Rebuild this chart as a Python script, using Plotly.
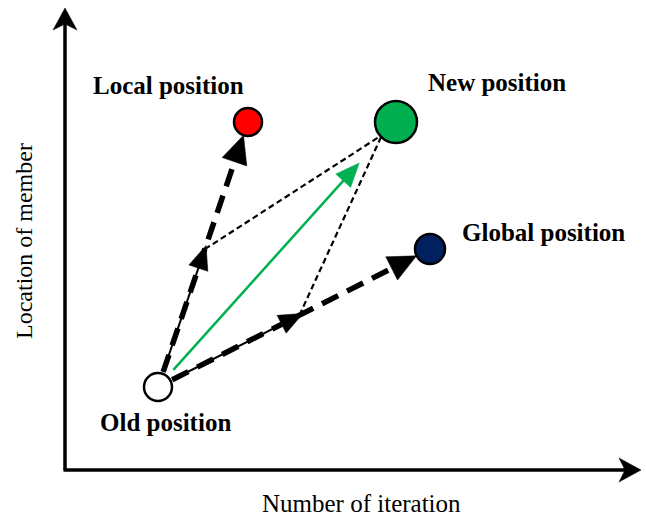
import numpy as np
import plotly.graph_objects as go

# ---- data (diagram coordinates; canvas units, y grows downward) ----
names = ["Old position", "Local position", "New position", "Global position"]
node_x = [158, 248, 396, 430]
node_y = [387, 122, 122, 249]
node_r = [14, 14, 21, 15]
node_fill = ["#ffffff", "#ff0000", "#00b050", "#002060"]
label_x = [165, 168, 497, 543]
label_y = [422, 85, 82, 232]
mid_frac = 0.52         # where the partial-step arrows sit on each move
axis_x_title = "Number of iteration"
axis_y_title = "Location of member"

W, H = 646, 517
O = np.array([node_x[0], node_y[0]], float)
L = np.array([node_x[1], node_y[1]], float)
N = np.array([node_x[2], node_y[2]], float)
G = np.array([node_x[3], node_y[3]], float)

shapes = []


def unit(a, b):
    d = b - a
    return d / np.linalg.norm(d)


def line(a, b, width, color="black", dash=None):
    shapes.append(dict(type="line", x0=a[0], y0=a[1], x1=b[0], y1=b[1],
                       xref="x", yref="y",
                       line=dict(color=color, width=width, dash=dash)))


def tri(tip, d, length, half, color="black", notch=0.0):
    n = np.array([-d[1], d[0]])
    base = tip - length * d
    p1 = base + half * n
    p2 = base - half * n
    pts = [tip, p1]
    if notch:
        pts.append(tip - (length - notch) * d)
    pts.append(p2)
    path = "M " + " L ".join(f"{p[0]:.2f},{p[1]:.2f}" for p in pts) + " Z"
    shapes.append(dict(type="path", path=path, xref="x", yref="y",
                       fillcolor=color, line=dict(color=color, width=0.5)))


# ---- axes with arrows ----
ax_origin = np.array([65, 470.0])
ax_ytip = np.array([65, 8.0])
ax_xtip = np.array([641, 470.0])
line(ax_origin, ax_ytip + np.array([0, 14]), 3.5)
line(ax_origin - np.array([1.5, 0]), ax_xtip - np.array([14, 0]), 3.5)
tri(ax_ytip, np.array([0, -1.0]), 22, 12, notch=6)
tri(ax_xtip, np.array([1.0, 0]), 22, 12, notch=6)

# ---- moves from old position ----
for tgt, r_t in [(L, node_r[1]), (G, node_r[3])]:
    d = unit(O, tgt)
    start = O + (node_r[0] + 2) * d
    end_tip = tgt - r_t * d
    mid = O + mid_frac * (tgt - O)
    # thin solid under first half
    line(start, mid, 2)
    # thick dashed whole length
    line(start, end_tip - 20 * d, 5.5, dash="18px,10px")
    tri(mid + 4 * d, d, 24, 10)
    tri(end_tip, d, 28, 13)

# ---- dotted parallelogram edges to new position ----
dN = unit(O, N)
for tgt in [L, G]:
    mid = O + mid_frac * (tgt - O)
    line(mid, N + np.array([-14, 13]), 2.2, dash="6px,3.5px")

# ---- green resulting move ----
g_start = O + 23 * dN
g_tip = N - 55 * dN
line(g_start, g_tip - 12 * dN, 2.5, color="#00b050")
tri(g_tip, dN, 24, 10, color="#00b050")

# ---- nodes ----
for x, y, r, c in zip(node_x, node_y, node_r, node_fill):
    shapes.append(dict(type="circle", xref="x", yref="y",
                       x0=x - r, x1=x + r, y0=y - r, y1=y + r,
                       fillcolor=c, line=dict(color="black", width=2.5)))

fig = go.Figure()
fig.add_trace(go.Scatter(x=[0, W], y=[0, H], mode="markers",
                         marker=dict(opacity=0), hoverinfo="skip",
                         showlegend=False))

annotations = []
for t, x, y in zip(names, label_x, label_y):
    annotations.append(dict(text=f"<b>{t}</b>", x=x, y=y, xref="x", yref="y",
                            showarrow=False,
                            font=dict(family="Liberation Serif", size=25,
                                      color="black")))
annotations.append(dict(text=axis_x_title, x=361, y=503, xref="x", yref="y",
                        showarrow=False,
                        font=dict(family="Liberation Serif", size=25,
                                  color="black")))
annotations.append(dict(text=axis_y_title, x=24, y=241, xref="x", yref="y",
                        showarrow=False, textangle=-90,
                        font=dict(family="Liberation Serif", size=24,
                                  color="black")))

fig.update_layout(
    width=W, height=H, margin=dict(l=0, r=0, t=0, b=0),
    paper_bgcolor="white", plot_bgcolor="white",
    xaxis=dict(range=[0, W], visible=False, fixedrange=True),
    yaxis=dict(range=[H, 0], visible=False, fixedrange=True),
    shapes=shapes, annotations=annotations, showlegend=False,
)
fig.write_html("out.html",
               config={"displayModeBar": False, "staticPlot": True},
               post_script="document.body.style.margin='0';"
                           "document.body.style.overflow='hidden';")
